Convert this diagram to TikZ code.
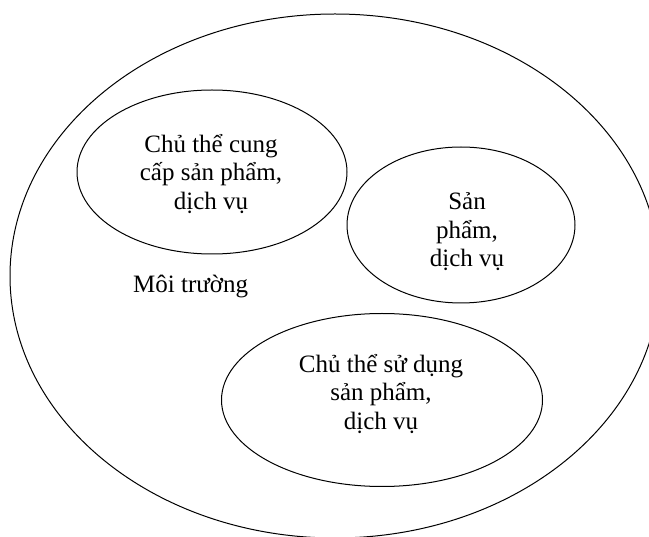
\documentclass[tikz,border=0pt]{standalone}
\usepackage{fontspec}
\setmainfont{Liberation Serif}
\usetikzlibrary{shapes.geometric}
\begin{document}
\begin{tikzpicture}[x=1pt,y=-1pt,
  ell/.style={draw,ellipse,line width=1pt,inner sep=0pt},
  lab/.style={align=center,font=\fontsize{25}{28.5}\selectfont,inner sep=0pt}]
\useasboundingbox (0,0) rectangle (649,537);
\node[ell,minimum width=650pt,minimum height=524pt] (env) at (335,276) {};
\node[ell,minimum width=270pt,minimum height=164pt] (prov) at (212,172) {};
\node[ell,minimum width=228pt,minimum height=156pt] (prod) at (461,225) {};
\node[ell,minimum width=321pt,minimum height=173pt] (user) at (382,400) {};
\node[lab] (tprov) at (211,174) {Chủ thể cung\\cấp sản phẩm,\\dịch vụ};
\node[lab] (tprod) at (467,232) {Sản\\phẩm,\\dịch vụ};
\node[lab] (tuser) at (381,394) {Chủ thể sử dụng\\sản phẩm,\\dịch vụ};
\node[lab,anchor=base west] (tenv) at (133,293) {Môi trường};
\end{tikzpicture}
\end{document}
